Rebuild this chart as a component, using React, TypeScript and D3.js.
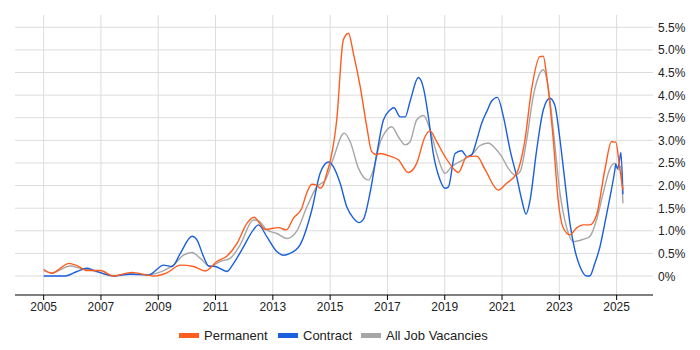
import React from "react";
import * as d3 from "d3";

const xTicks = [2005, 2007, 2009, 2011, 2013, 2015, 2017, 2019, 2021, 2023, 2025];
const yTicks = [0, 0.5, 1, 1.5, 2, 2.5, 3, 3.5, 4, 4.5, 5, 5.5];
const yTickLabels = ["0%", "0.5%", "1.0%", "1.5%", "2.0%", "2.5%", "3.0%", "3.5%", "4.0%", "4.5%", "5.0%", "5.5%"];

const seriesNames = ["Permanent", "Contract", "All Job Vacancies"];
const seriesColors = ["#ff5c1f", "#1a5fdc", "#a6a6a6"];

const permYears = [2005.0, 2005.29, 2005.6, 2005.87, 2006.16, 2006.51, 2006.98, 2007.44, 2008.08, 2008.6, 2008.84, 2009.3, 2009.77, 2010.23, 2010.64, 2011.05, 2011.4, 2011.75, 2012.1, 2012.35, 2012.5, 2012.73, 2013.2, 2013.47, 2013.72, 2014.01, 2014.18, 2014.36, 2014.53, 2014.65, 2014.76, 2014.88, 2015.0, 2015.23, 2015.46, 2015.64, 2015.81, 2016.05, 2016.28, 2016.45, 2016.63, 2016.74, 2017.09, 2017.38, 2017.73, 2018.02, 2018.31, 2018.49, 2018.72, 2019.01, 2019.3, 2019.48, 2019.77, 2020.12, 2020.41, 2020.87, 2021.16, 2021.51, 2021.8, 2022.03, 2022.32, 2022.44, 2022.56, 2022.79, 2022.96, 2023.14, 2023.37, 2023.6, 2023.83, 2024.06, 2024.3, 2024.59, 2024.82, 2024.97, 2025.11, 2025.22];
const permVals = [0.15, 0.06, 0.18, 0.28, 0.23, 0.12, 0.12, 0.0, 0.08, 0.02, 0.0, 0.07, 0.24, 0.21, 0.11, 0.32, 0.44, 0.72, 1.17, 1.3, 1.2, 1.03, 1.07, 1.02, 1.28, 1.5, 1.83, 2.03, 2.01, 1.94, 2.01, 2.27, 2.53, 3.45, 5.22, 5.37, 4.93, 4.19, 3.3, 2.75, 2.68, 2.71, 2.65, 2.57, 2.29, 2.49, 3.08, 3.21, 2.97, 2.64, 2.38, 2.29, 2.64, 2.65, 2.35, 1.9, 2.05, 2.27, 3.01, 4.12, 4.85, 4.86, 4.41, 3.01, 1.68, 1.06, 0.91, 1.06, 1.13, 1.13, 1.35, 2.35, 2.97, 2.96, 2.38, 1.9];

const contYears = [2005.0, 2005.76, 2006.16, 2006.51, 2006.74, 2007.44, 2008.02, 2008.66, 2009.19, 2009.48, 2009.77, 2010.18, 2010.35, 2010.58, 2010.76, 2010.99, 2011.4, 2011.63, 2011.98, 2012.32, 2012.5, 2012.79, 2013.14, 2013.37, 2013.6, 2013.95, 2014.36, 2014.65, 2014.94, 2015.11, 2015.35, 2015.58, 2015.81, 2016.02, 2016.16, 2016.39, 2016.63, 2016.86, 2017.09, 2017.23, 2017.44, 2017.62, 2017.79, 2018.08, 2018.26, 2018.43, 2018.6, 2018.84, 2019.01, 2019.13, 2019.36, 2019.59, 2019.77, 2019.94, 2020.12, 2020.29, 2020.47, 2020.64, 2020.84, 2021.05, 2021.28, 2021.51, 2021.69, 2021.84, 2021.98, 2022.21, 2022.44, 2022.67, 2022.84, 2023.01, 2023.19, 2023.37, 2023.54, 2023.72, 2023.95, 2024.06, 2024.24, 2024.42, 2024.59, 2024.77, 2024.94, 2024.97, 2025.02, 2025.08, 2025.15, 2025.22];
const contVals = [0.0, 0.0, 0.1, 0.17, 0.13, 0.0, 0.04, 0.02, 0.24, 0.21, 0.5, 0.88, 0.8, 0.43, 0.22, 0.21, 0.1, 0.28, 0.65, 1.02, 1.13, 0.87, 0.54, 0.46, 0.5, 0.69, 1.46, 2.27, 2.52, 2.42, 2.05, 1.53, 1.28, 1.18, 1.25, 1.83, 2.71, 3.45, 3.67, 3.72, 3.52, 3.52, 3.86, 4.39, 4.15, 3.52, 2.71, 2.12, 1.94, 1.97, 2.71, 2.77, 2.64, 2.68, 3.01, 3.38, 3.64, 3.87, 3.95, 3.52, 2.79, 2.2, 1.68, 1.37, 1.68, 2.79, 3.67, 3.93, 3.78, 3.08, 2.12, 1.17, 0.58, 0.21, 0.0, 0.0, 0.28, 0.65, 1.17, 1.75, 2.35, 2.48, 2.38, 2.46, 2.73, 1.81];

const allYears = [2005.0, 2005.29, 2005.93, 2006.28, 2006.63, 2006.98, 2007.44, 2008.02, 2008.66, 2009.19, 2009.53, 2009.88, 2010.18, 2010.47, 2010.81, 2011.16, 2011.51, 2011.86, 2012.32, 2012.5, 2012.79, 2013.14, 2013.49, 2013.84, 2014.19, 2014.54, 2014.83, 2015.11, 2015.49, 2015.7, 2015.99, 2016.34, 2016.51, 2016.74, 2016.98, 2017.15, 2017.38, 2017.62, 2017.79, 2018.02, 2018.26, 2018.49, 2018.72, 2019.01, 2019.24, 2019.65, 2019.99, 2020.22, 2020.52, 2020.75, 2020.99, 2021.22, 2021.45, 2021.63, 2021.86, 2022.09, 2022.32, 2022.44, 2022.61, 2022.79, 2023.01, 2023.26, 2023.49, 2023.83, 2024.06, 2024.3, 2024.53, 2024.77, 2024.94, 2025.06, 2025.14, 2025.22];
const allVals = [0.12, 0.07, 0.22, 0.17, 0.13, 0.07, 0.01, 0.05, 0.03, 0.12, 0.24, 0.46, 0.52, 0.39, 0.21, 0.32, 0.39, 0.69, 1.24, 1.22, 1.02, 0.94, 0.83, 1.0, 1.53, 1.98, 2.12, 2.6, 3.16, 2.97, 2.38, 2.12, 2.35, 2.94, 3.23, 3.3, 3.08, 2.9, 2.97, 3.45, 3.55, 3.23, 2.71, 2.27, 2.42, 2.57, 2.71, 2.88, 2.94, 2.83, 2.64, 2.38, 2.23, 2.31, 3.01, 3.97, 4.48, 4.56, 4.19, 3.23, 1.9, 1.06, 0.76, 0.81, 0.87, 1.24, 1.83, 2.38, 2.49, 2.35, 2.42, 1.61];

const W = 700;
const H = 350;
const left = 15;
const right = 653;
const top = 15;
const bottom = 295;

export default function App() {
  const x = d3.scaleLinear().domain([2004.0, 2026.27]).range([left, right]);
  const y = d3.scaleLinear().domain([0, 5.5]).range([276, 27.3]);
  const line = d3
    .line<[number, number]>()
    .x((d) => x(d[0]))
    .y((d) => y(d[1]))
    .curve(d3.curveMonotoneX);

  const series = [
    { years: allYears, vals: allVals, color: seriesColors[2] },
    { years: contYears, vals: contVals, color: seriesColors[1] },
    { years: permYears, vals: permVals, color: seriesColors[0] },
  ];

  const font = "'Liberation Sans', Arial, sans-serif";

  const legendItems = [
    { name: seriesNames[0], color: seriesColors[0], sx: 179, tx: 204 },
    { name: seriesNames[1], color: seriesColors[1], sx: 278, tx: 303 },
    { name: seriesNames[2], color: seriesColors[2], sx: 361, tx: 386 },
  ];

  return (
    <svg
      width={W}
      height={H}
      style={{ position: "absolute", left: 0, top: 0, background: "#fff" }}
      fontFamily={font}
    >
      <rect x={0} y={0} width={W} height={H} fill="#fff" />
      {yTicks.map((t) => (
        <line key={"hy" + t} x1={left} x2={right} y1={y(t)} y2={y(t)} stroke="#dcdcdc" strokeWidth={1} />
      ))}
      {xTicks.map((t) => (
        <line key={"vx" + t} x1={x(t)} x2={x(t)} y1={top} y2={bottom} stroke="#dcdcdc" strokeWidth={1} />
      ))}
      {series.map((s, i) => (
        <path
          key={"s" + i}
          d={line(s.years.map((yr, j) => [yr, s.vals[j]] as [number, number])) || ""}
          fill="none"
          stroke={s.color}
          strokeWidth={1.4}
          strokeLinejoin="round"
        />
      ))}
      <line x1={left} x2={right} y1={bottom} y2={bottom} stroke="#000" strokeWidth={1.2} />
      {xTicks.map((t) => (
        <g key={"xt" + t}>
          <line x1={x(t)} x2={x(t)} y1={bottom} y2={bottom + 5} stroke="#000" strokeWidth={1} />
          <text x={x(t)} y={311} fontSize={12} textAnchor="middle" fill="#222">
            {t}
          </text>
        </g>
      ))}
      {yTicks.map((t, i) => (
        <text key={"yl" + t} x={658} y={y(t) + 4.5} fontSize={12} fill="#222">
          {yTickLabels[i]}
        </text>
      ))}
      {legendItems.map((l) => (
        <g key={l.name}>
          <rect x={l.sx} y={333} width={20} height={5} fill={l.color} />
          <text x={l.tx} y={340} fontSize={13} fill="#222">
            {l.name}
          </text>
        </g>
      ))}
    </svg>
  );
}
